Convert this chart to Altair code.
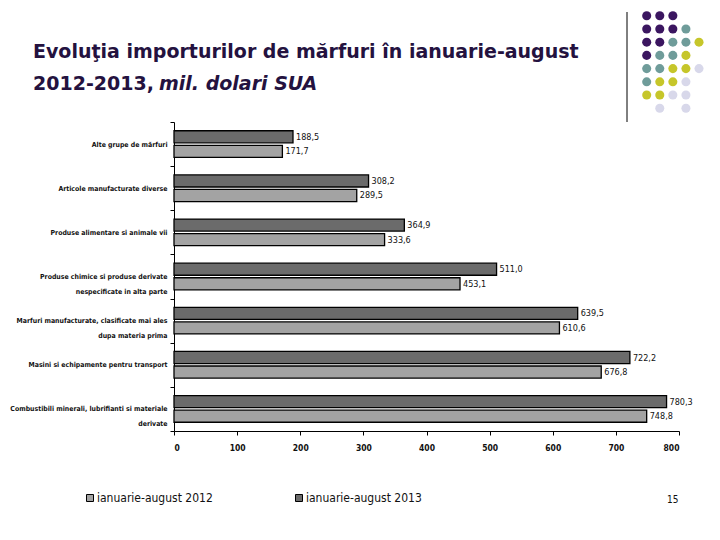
import altair as alt
import pandas as pd

# ---------------- data ----------------
categories = [
    "Alte grupe de mărfuri",
    "Articole manufacturate diverse",
    "Produse alimentare si animale vii",
    "Produse chimice si produse derivate|nespecificate in alta parte",
    "Marfuri manufacturate, clasificate mai ales|dupa materia prima",
    "Masini si echipamente pentru transport",
    "Combustibili minerali, lubrifianti si materiale|derivate",
]
series_2013 = "ianuarie-august 2013"
series_2012 = "ianuarie-august 2012"
values_2013 = [188.5, 308.2, 364.9, 511.0, 639.5, 722.2, 780.3]
values_2012 = [171.7, 289.5, 333.6, 453.1, 610.6, 676.8, 748.8]
x_ticks = [0, 100, 200, 300, 400, 500, 600, 700, 800]

title_line1 = "Evoluţia importurilor de mărfuri în ianuarie-august"
title_line2a = "2012-2013,"
title_line2b = "mil. dolari SUA"
page_number = "15"

# decorative dot grid (row, col, colour key)
dot_rows = [0, 0, 0,
            1, 1, 1, 1,
            2, 2, 2, 2, 2,
            3, 3, 3, 3,
            4, 4, 4, 4, 4,
            5, 5, 5, 5,
            6, 6, 6, 6,
            7, 7]
dot_cols = [0, 1, 2,
            0, 1, 2, 3,
            0, 1, 2, 3, 4,
            0, 1, 2, 3,
            0, 1, 2, 3, 4,
            0, 1, 2, 3,
            0, 1, 2, 3,
            1, 3]
dot_kind = ["P", "P", "P",
            "P", "P", "P", "T",
            "P", "P", "T", "T", "Y",
            "P", "T", "T", "Y",
            "T", "T", "Y", "Y", "L",
            "T", "Y", "Y", "L",
            "Y", "Y", "L", "L",
            "L", "L"]
dot_palette = {"P": "#3b1660", "T": "#6f9c9a", "Y": "#c6c62a", "L": "#d8d8ea"}

# ---------------- tables ----------------
rows = []
for c, v13, v12 in zip(categories, values_2013, values_2012):
    rows.append({"category": c, "series": series_2013, "value": v13,
                 "label": f"{v13:.1f}".replace(".", ",")})
    rows.append({"category": c, "series": series_2012, "value": v12,
                 "label": f"{v12:.1f}".replace(".", ",")})
df = pd.DataFrame(rows)

dots = pd.DataFrame({"row": dot_rows, "col": dot_cols,
                     "fill": [dot_palette[k] for k in dot_kind]})
one = pd.DataFrame({"a": [0]})

NARROW = "DejaVu Sans Condensed, Liberation Sans Narrow, sans-serif"
TITLE_FONT = "DejaVu Sans"
TITLE_COLOR = "#24123f"
TITLE_SIZE = 19

y_enc = alt.Y(
    "category:N",
    sort=categories,
    scale=alt.Scale(domain=categories, paddingInner=0, paddingOuter=0),
    axis=alt.Axis(
        title=None,
        labelExpr="split(datum.label, '|')",
        labelFont=NARROW, labelFontWeight="bold", labelFontSize=6.9,
        labelColor="#111111", labelAlign="right", labelBaseline="middle",
        labelLineHeight=15, labelPadding=3, labelLimit=300,
        tickSize=4, tickColor="black", domainColor="black",
        tickBand="extent", grid=False,
    ),
)
yoff_enc = alt.YOffset(
    "series:N",
    sort=[series_2013, series_2012],
    scale=alt.Scale(domain=[series_2013, series_2012],
                    paddingInner=0.17, paddingOuter=0.6),
)
x_enc = alt.X(
    "value:Q",
    scale=alt.Scale(domain=[0, 800], nice=False),
    axis=alt.Axis(
        title=None, values=x_ticks, grid=False,
        labelFont=NARROW, labelFontWeight="bold", labelFontSize=8.5,
        labelColor="#111111", labelPadding=8,
        tickSize=4, tickColor="black", domainColor="black",
    ),
)

bars = alt.Chart(df).mark_bar(stroke="black", strokeWidth=1.3).encode(
    y=y_enc,
    yOffset=yoff_enc,
    x=x_enc,
    color=alt.Color(
        "series:N",
        scale=alt.Scale(domain=[series_2012, series_2013],
                        range=["#a3a3a3", "#6b6b6b"]),
        legend=alt.Legend(
            title=None, orient="none", legendX=-90, legendY=370,
            direction="horizontal", columnPadding=80,
            symbolType="square", symbolSize=49,
            symbolStrokeColor="black", symbolStrokeWidth=1,
            labelFont=NARROW, labelFontSize=12, labelColor="#111111",
            labelOffset=1,
        ),
    ),
)

value_labels = alt.Chart(df).mark_text(
    align="left", baseline="middle", dx=3,
    font=NARROW, fontSize=9, color="#111111",
).encode(
    y=alt.Y("category:N", sort=categories),
    yOffset=alt.YOffset("series:N", sort=[series_2013, series_2012]),
    x=alt.X("value:Q"),
    text="label:N",
)

main = alt.layer(bars, value_labels)

dot_layer = alt.Chart(dots).mark_circle(size=82, opacity=1).encode(
    x=alt.X("col:Q", scale=alt.Scale(domain=[0, 4], range=[472.7, 525], nice=False, zero=False), axis=None),
    y=alt.Y("row:Q", scale=alt.Scale(domain=[0, 7], range=[-106.3, -13.7], nice=False, zero=False), axis=None),
    color=alt.Color("fill:N", scale=None),
)

deco_line = alt.Chart(one).mark_rule(color="black", strokeWidth=1).encode(
    x=alt.value(453), y=alt.value(-110), y2=alt.value(0)
)

t1 = alt.Chart(one).mark_text(
    align="left", baseline="alphabetic", font=TITLE_FONT, fontWeight="bold",
    fontSize=TITLE_SIZE, color=TITLE_COLOR, text=title_line1,
).encode(x=alt.value(-141), y=alt.value(-64))
t2 = alt.Chart(one).mark_text(
    align="left", baseline="alphabetic", font=TITLE_FONT, fontWeight="bold",
    fontSize=TITLE_SIZE, color=TITLE_COLOR, text=title_line2a,
).encode(x=alt.value(-141), y=alt.value(-32))
t3 = alt.Chart(one).mark_text(
    align="left", baseline="alphabetic", font=TITLE_FONT, fontWeight="bold",
    fontStyle="italic", fontSize=TITLE_SIZE, color=TITLE_COLOR, text=title_line2b,
).encode(x=alt.value(-15), y=alt.value(-32))
pnum = alt.Chart(one).mark_text(
    align="left", baseline="middle", font=NARROW, fontSize=10,
    color="#111111", text=page_number,
).encode(x=alt.value(493), y=alt.value(378))

chart = alt.layer(main, dot_layer, deco_line, t1, t2, t3, pnum).resolve_scale(
    x="independent", y="independent", color="independent"
).properties(
    width=505, height=309,
    autosize=alt.AutoSizeParams(type="none"),
    padding={"left": 166, "top": 114, "right": 25, "bottom": 95},
    background="white",
).configure_view(stroke=None)

chart.save("out.html", embed_options={"renderer": "svg", "actions": False})
